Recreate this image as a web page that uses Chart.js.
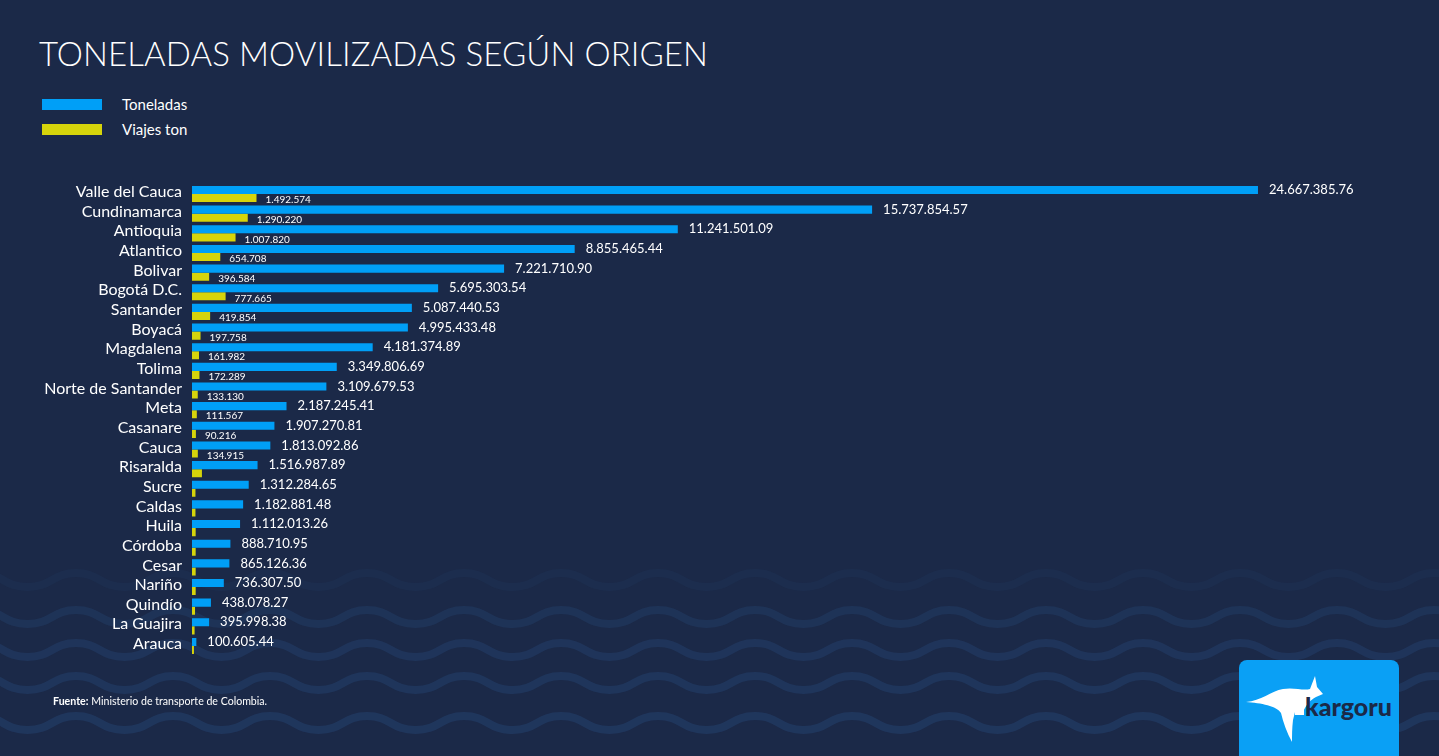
<!DOCTYPE html>
<html>
<head>
<meta charset="utf-8">
<script src="https://cdn.jsdelivr.net/npm/chart.js@4"></script>
<style>
  html, body { margin: 0; padding: 0; background: #1b2948; }
  #page { position: relative; width: 1439px; height: 756px; overflow: hidden; background: #1b2948; font-family: Lato, sans-serif; color: #fff; }
  #waves { position: absolute; left: 0; top: 0; }
  #title { position: absolute; left: 39px; top: 33px; font-size: 33px; font-weight: 300; letter-spacing: 0.1px; white-space: nowrap; }
  .leg { position: absolute; left: 42px; font-size: 15px; }
  .leg span.sw { position: absolute; left: 0; width: 60px; height: 11px; }
  .leg span.tx { position: absolute; left: 80px; top: -4px; white-space: nowrap; }
  #chartBox { position: absolute; left: 0; top: 0; width: 1439px; height: 756px; }
  #fuente { position: absolute; left: 53px; top: 695px; font-size: 10.6px; white-space: nowrap; }
  #logo { position: absolute; left: 1239px; top: 660px; width: 160px; height: 110px; background: #0aa0f5; border-radius: 8px; }
  #logoSvg { position: absolute; left: 1239px; top: 660px; }
</style>
</head>
<body>
<div id="page">
  <svg id="waves" width="1439" height="756"></svg>
  <div id="title">TONELADAS MOVILIZADAS SEGÚN ORIGEN</div>
  <div id="legend"></div>
  <div id="chartBox"><canvas id="myChart"></canvas></div>
  <div id="fuente"><b>Fuente:</b> Ministerio de transporte de Colombia.</div>
  <div id="logo"></div>
  <svg id="logoSvg" width="160" height="96">
    <path fill="#ffffff" d="M7,42 C22,41 32,31 44,29 C55,27 64,31 71,29 L76,16 L78,27 L84,34 L77,37 C71,40 67,45 64,52 L56,52 L54,60 C53,68 53,76 53,82 C48,73 44,62 42,53 C38,46 22,43 7,42 Z"/>
    <rect x="56" y="43" width="9" height="12" fill="#ffffff"/>
    <text x="66" y="56" font-family="Lato, sans-serif" font-weight="900" font-size="25" fill="#1b2948">kargoru</text>
  </svg>
</div>
<script>
// datos
const departamentos = ['Valle del Cauca', 'Cundinamarca', 'Antioquia', 'Atlantico', 'Bolivar', 'Bogotá D.C.',
  'Santander', 'Boyacá', 'Magdalena', 'Tolima', 'Norte de Santander', 'Meta', 'Casanare', 'Cauca',
  'Risaralda', 'Sucre', 'Caldas', 'Huila', 'Córdoba', 'Cesar', 'Nariño', 'Quindío', 'La Guajira', 'Arauca'];

const toneladas = [24667385.76, 15737854.57, 11241501.09, 8855465.44, 7221710.90, 5695303.54,
  5087440.53, 4995433.48, 4181374.89, 3349806.69, 3109679.53, 2187245.41, 1907270.81, 1813092.86,
  1516987.89, 1312284.65, 1182881.48, 1112013.26, 888710.95, 865126.36, 736307.50, 438078.27, 395998.38, 100605.44];

// los ultimos no tienen etiqueta en el original, valores estimados
const viajesTon = [1492574, 1290220, 1007820, 654708, 396584, 777665,
  419854, 197758, 161982, 172289, 133130, 111567, 90216, 134915,
  230000, 80000, 80000, 85000, 85000, 85000, 85000, 70000, 60000, 45000];
const viajesConEtiqueta = 14;

const colorToneladas = '#009ff7';
const colorViajes = '#d6d40b';

function puntos(n) {
  return n.toString().replace(/\B(?=(\d{3})+(?!\d))/g, '.');
}
function fmtTon(v) {
  let partes = v.toFixed(2).split('.');
  return puntos(partes[0]) + '.' + partes[1];
}

// leyenda
const legend = document.getElementById('legend');
[['Toneladas', colorToneladas, 99], ['Viajes ton', colorViajes, 124]].forEach(l => {
  let d = document.createElement('div');
  d.className = 'leg';
  d.style.top = l[2] + 'px';
  d.innerHTML = '<span class="sw" style="background:' + l[1] + '"></span><span class="tx">' + l[0] + '</span>';
  legend.appendChild(d);
});

// ondas de fondo
const waves = document.getElementById('waves');
const filas = [[580, 0.2], [617, 0.45], [650, 0.5], [683, 0.55], [723, 0.6]];
filas.forEach(f => {
  let y = f[0];
  let x0 = 367 % 97 - 97 * 2;
  let d = 'M' + x0 + ',' + (y - 7);
  for (let x = x0; x < 1539; x += 97) {
    d += ' C' + (x + 24) + ',' + (y - 7) + ' ' + (x + 24) + ',' + (y + 7) + ' ' + (x + 48.5) + ',' + (y + 7);
    d += ' C' + (x + 73) + ',' + (y + 7) + ' ' + (x + 73) + ',' + (y - 7) + ' ' + (x + 97) + ',' + (y - 7);
  }
  let p = document.createElementNS('http://www.w3.org/2000/svg', 'path');
  p.setAttribute('d', d);
  p.setAttribute('fill', 'none');
  p.setAttribute('stroke', '#23406b');
  p.setAttribute('stroke-width', '8');
  p.setAttribute('opacity', f[1]);
  waves.appendChild(p);
});

// etiquetas de valores
const etiquetas = {
  id: 'etiquetas',
  afterDatasetsDraw(chart) {
    const ctx = chart.ctx;
    ctx.save();
    ctx.fillStyle = '#ffffff';
    ctx.textBaseline = 'middle';
    ctx.textAlign = 'left';
    chart.getDatasetMeta(0).data.forEach((bar, i) => {
      ctx.font = '13px Lato, sans-serif';
      ctx.fillText(fmtTon(toneladas[i]), bar.x + 11, bar.y);
    });
    chart.getDatasetMeta(1).data.forEach((bar, i) => {
      if (i >= viajesConEtiqueta) return;
      ctx.font = '10px Lato, sans-serif';
      ctx.fillText(puntos(viajesTon[i]), bar.x + 9, bar.y + 2);
    });
    ctx.restore();
  }
};

const data = {
  labels: departamentos,
  datasets: [{
    label: 'Toneladas',
    backgroundColor: colorToneladas,
    data: toneladas,
  }, {
    label: 'Viajes ton',
    backgroundColor: colorViajes,
    data: viajesTon,
  }]
};

const config = {
  type: 'bar',
  data: data,
  options: {
    indexAxis: 'y',
    responsive: true,
    maintainAspectRatio: false,
    animation: false,
    layout: { padding: { top: 184.2, bottom: 100.2, right: 37, left: 0 } },
    datasets: { bar: { categoryPercentage: 0.82, barPercentage: 1 } },
    plugins: { legend: { display: false }, tooltip: { enabled: false } },
    scales: {
      x: { display: false, min: 0, max: 28000000 },
      y: {
        grid: { display: false, drawTicks: false },
        border: { display: false },
        ticks: {
          color: '#ffffff', font: { family: 'Lato, sans-serif', size: 16 }, padding: 10,
          autoSkip: false, labelOffset: -2
        },
        afterFit: (scale) => { scale.width = 192; }
      }
    }
  },
  plugins: [etiquetas]
};

const myChart = new Chart(document.getElementById('myChart'), config);
</script>
</body>
</html>
